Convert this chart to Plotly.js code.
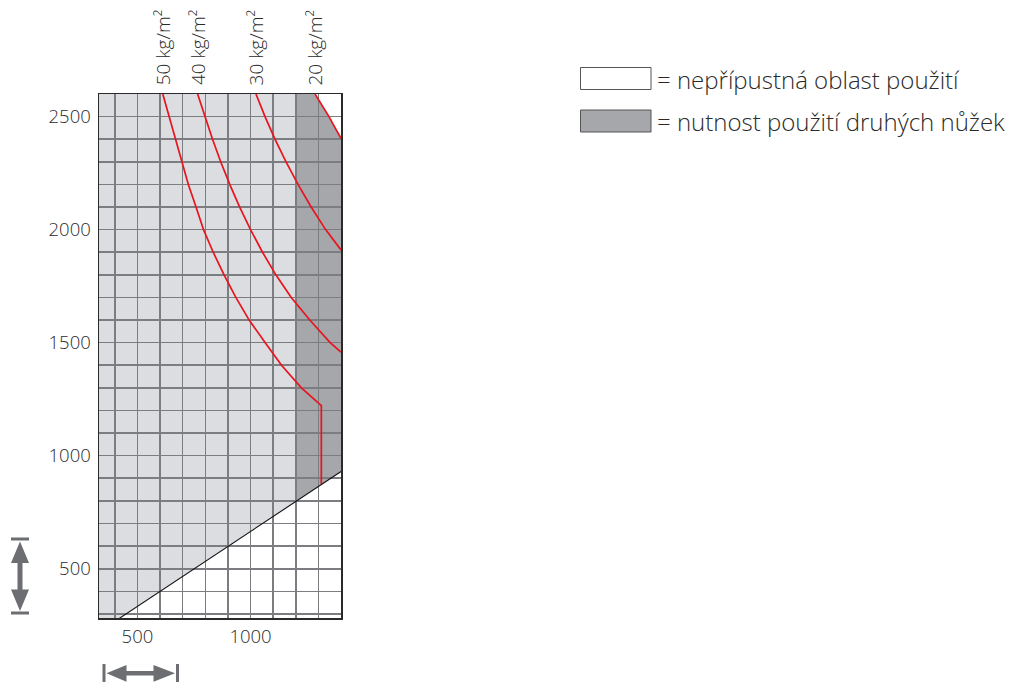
<!DOCTYPE html>
<html>
<head>
<meta charset="utf-8">
<script src="https://cdn.plot.ly/plotly-3.0.1.min.js"></script>
<style>html,body{margin:0;padding:0;background:#fff;}#chart{width:1009px;height:682px;}</style>
</head>
<body>
<div id="chart"></div>
<script>
// ---- data ----
const xRange = [330, 1400];
const yRange = [282, 2600];
const xTickVals = [500, 1000];
const xTickText = ['500', '1000'];
const yTickVals = [500, 1000, 1500, 2000, 2500];
const yTickText = ['500', '1000', '1500', '2000', '2500'];

const curveLabels = ['50 kg/m²', '40 kg/m²', '30 kg/m²', '20 kg/m²'];
const curve50X = [612, 640, 666, 695, 725, 759, 792, 835, 883, 935, 994, 1065, 1137, 1225, 1313, 1313];
const curve50Y = [2600, 2500, 2400, 2300, 2200, 2100, 2000, 1900, 1800, 1700, 1600, 1500, 1400, 1300, 1221, 875];
const curve40X = [766, 798, 832, 868, 908, 952, 1000, 1053, 1112, 1180, 1262, 1352, 1400];
const curve40Y = [2600, 2500, 2400, 2300, 2200, 2100, 2000, 1900, 1800, 1700, 1600, 1500, 1458];
const curve30X = [1024, 1064, 1108, 1157, 1210, 1268, 1332, 1400];
const curve30Y = [2600, 2500, 2400, 2300, 2200, 2100, 2000, 1910];
const curve20X = [1285, 1316, 1347, 1374, 1400];
const curve20Y = [2600, 2550, 2500, 2450, 2404];

// boundary of the forbidden area (diagonal)
const limitX = [415, 1400];
const limitY = [277, 930];
// zone that needs a second pair of shears
const zoneX = [1200, 1400, 1400, 1200];
const zoneY = [800, 930, 2600, 2600];

const legendTexts = ['= nepřípustná oblast použití', '= nutnost použití druhých nůžek'];

// ---- styles ----
const FONT = 'Open Sans, Liberation Sans, Arial, sans-serif';
const TXT = '#2a2a2a';
const RED = '#e8141f';
const LIGHT = '#dcdde0';
const DARK = '#a6a7aa';
const GRID = '#7c7d80';
const ARROW = '#6d6e71';

const M = {l: 99, r: 668, t: 94, b: 64};
const W = 1009 - M.l - M.r, H = 682 - M.t - M.b;
const px = (x) => (x - M.l) / W;
const py = (y) => (682 - M.b - y) / H;
function poly(pts) {
  return 'M' + pts.map(p => px(p[0]).toFixed(5) + ',' + py(p[1]).toFixed(5)).join(' L') + ' Z';
}
function dataPath(xs, ys, close) {
  let s = 'M' + xs.map((x, i) => x + ',' + ys[i]).join(' L');
  return s + (close || '') + ' Z';
}

const redLine = {color: RED, width: 1.7};
const traces = [
  {x: curve50X, y: curve50Y, mode: 'lines', line: redLine, hoverinfo: 'skip'},
  {x: curve40X, y: curve40Y, mode: 'lines', line: redLine, hoverinfo: 'skip'},
  {x: curve30X, y: curve30Y, mode: 'lines', line: redLine, hoverinfo: 'skip'},
  {x: curve20X, y: curve20Y, mode: 'lines', line: redLine, hoverinfo: 'skip'},
  {x: limitX, y: limitY, mode: 'lines', line: {color: '#111', width: 1.1}, hoverinfo: 'skip'}
];

const shapes = [
  {type: 'path', xref: 'x', yref: 'y', layer: 'below', fillcolor: DARK, line: {width: 0},
   path: dataPath(zoneX, zoneY)},
  {type: 'path', xref: 'x', yref: 'y', layer: 'below', fillcolor: '#ffffff', line: {width: 0},
   path: dataPath(limitX, limitY, ' L' + xRange[1] + ',' + (limitY[0] - 100) + ' L' + limitX[0] + ',' + (limitY[0] - 100))},
  {type: 'path', xref: 'x', yref: 'y', layer: 'below', fillcolor: '#ffffff', line: {width: 0},
   path: dataPath(curve20X, curve20Y, ' L' + xRange[1] + ',' + yRange[1])},
  {type: 'rect', xref: 'paper', yref: 'paper', x0: px(580.5), x1: px(651), y0: py(67.5), y1: py(89.5),
   fillcolor: '#ffffff', line: {color: '#555', width: 1}},
  {type: 'rect', xref: 'paper', yref: 'paper', x0: px(580.5), x1: px(651), y0: py(110), y1: py(132),
   fillcolor: DARK, line: {color: '#555', width: 1}},
  {type: 'path', xref: 'paper', yref: 'paper', fillcolor: ARROW, line: {width: 0},
   path: poly([[20,541.5],[29,563],[22.5,563],[22.5,589.5],[29,589.5],[20,611],[11,589.5],[17.5,589.5],[17.5,563],[11,563]])},
  {type: 'path', xref: 'paper', yref: 'paper', fillcolor: ARROW, line: {width: 0},
   path: poly([[11,537.5],[29,537.5],[29,540.5],[11,540.5]])},
  {type: 'path', xref: 'paper', yref: 'paper', fillcolor: ARROW, line: {width: 0},
   path: poly([[11,611.5],[29,611.5],[29,614.5],[11,614.5]])},
  {type: 'path', xref: 'paper', yref: 'paper', fillcolor: ARROW, line: {width: 0},
   path: poly([[106.5,673.3],[126.5,665],[126.5,671],[153.5,671],[153.5,665],[175,673.3],[153.5,681.7],[153.5,675.6],[126.5,675.6],[126.5,681.7]])},
  {type: 'path', xref: 'paper', yref: 'paper', fillcolor: ARROW, line: {width: 0},
   path: poly([[102.5,664],[105.5,664],[105.5,683],[102.5,683]])},
  {type: 'path', xref: 'paper', yref: 'paper', fillcolor: ARROW, line: {width: 0},
   path: poly([[176,664],[179,664],[179,683],[176,683]])}
];

const labelFont = {family: FONT, size: 19, color: TXT, weight: 300};
const curveTops = [curve50X[0], curve40X[0], curve30X[0], curve20X[0]];
const annotations = curveLabels.map((t, i) => ({
  x: curveTops[i], xref: 'x', y: 1, yref: 'paper', yanchor: 'bottom', xanchor: 'center',
  yshift: 7, textangle: -90, text: t, showarrow: false, font: labelFont
}));
const legendY = [79, 121];
legendTexts.forEach((t, i) => annotations.push({
  x: px(655), xref: 'paper', y: py(legendY[i]), yref: 'paper', xanchor: 'left', yanchor: 'middle',
  text: t, showarrow: false, font: {family: FONT, size: 24, color: TXT, weight: 300}
}));

const axisCommon = {
  showline: true, mirror: true, linecolor: '#2a2a2a', linewidth: 1.5,
  showgrid: true, gridcolor: GRID, gridwidth: 1.6, zeroline: false,
  ticks: '', tickmode: 'array',
  tickfont: {family: FONT, size: 18.5, color: TXT, weight: 300},
  minor: {tickmode: 'linear', tick0: 0, dtick: 100, showgrid: true, gridcolor: GRID, gridwidth: 1.6, ticks: ''},
  fixedrange: true
};

const layout = {
  width: 1009, height: 682,
  margin: M,
  paper_bgcolor: '#ffffff',
  plot_bgcolor: LIGHT,
  showlegend: false,
  xaxis: Object.assign({}, axisCommon, {range: xRange, tickvals: xTickVals, ticktext: xTickText, ticklabelstandoff: 1}),
  yaxis: Object.assign({}, axisCommon, {range: yRange, tickvals: yTickVals, ticktext: yTickText, ticklabelstandoff: 3}),
  shapes: shapes,
  annotations: annotations
};

Plotly.newPlot('chart', traces, layout, {displayModeBar: false, staticPlot: true});
</script>
</body>
</html>
